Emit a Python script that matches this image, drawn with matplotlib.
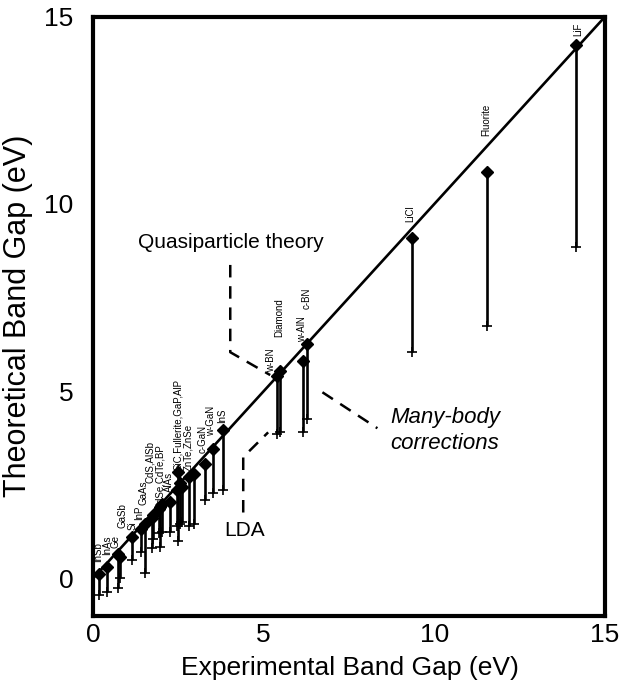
import matplotlib
matplotlib.use("Agg")
import matplotlib.pyplot as plt

plt.rcParams['font.family'] = ['Liberation Sans', 'DejaVu Sans']

# band gaps (eV): experiment, quasiparticle (GW) and LDA
materials = ["InSb", "InAs", "Ge", "GaSb", "Si", "InP", "GaAs", "CdS", "AlSb",
             "CdSe", "CdTe", "BP", "AlAs", "SiC", "Fullerite", "GaP", "AlP",
             "ZnTe", "ZnSe", "c-GaN", "w-GaN", "ZnS", "w-BN", "Diamond",
             "w-AlN", "c-BN", "LiCl", "Fluorite", "LiF"]
exp_gap = [0.18, 0.40, 0.74, 0.80, 1.15, 1.42, 1.52, 1.72, 1.76,
           1.92, 1.96, 2.02, 2.25, 2.45, 2.50, 2.55, 2.62,
           2.80, 2.95, 3.28, 3.52, 3.80, 5.40, 5.48,
           6.15, 6.27, 9.33, 11.55, 14.15]
qp_gap = [0.13, 0.30, 0.65, 0.58, 1.10, 1.33, 1.45, 1.62, 1.70,
          1.85, 1.90, 2.00, 2.05, 2.35, 2.85, 2.55, 2.45,
          2.70, 2.80, 3.05, 3.45, 3.95, 5.40, 5.55,
          5.80, 6.25, 9.10, 10.85, 14.25]
lda_gap = [-0.45, -0.37, -0.25, 0.00, 0.48, 0.70, 0.15, 0.80, 1.05,
           1.20, 0.85, 1.25, 1.25, 1.40, 1.00, 1.45, 1.50,
           1.40, 1.45, 2.10, 2.27, 2.35, 3.85, 3.90,
           3.90, 4.25, 6.05, 6.75, 8.85]

# point labels as printed (text, x, y of the label's lower end)
label_text = ["InSb", "InAs", "Ge", "GaSb", "Si", "InP", "GaAs", "CdS,AlSb",
              "CdSe,CdTe,BP", "AlAs", "SiC,Fullerite,GaP,AlP", "ZnTe,ZnSe",
              "c-GaN", "w-GaN", "InS", "w-BN", "Diamond", "w-AlN", "c-BN",
              "LiCl", "Fluorite", "LiF"]
label_x = [0.14, 0.40, 0.66, 0.87, 1.15, 1.36, 1.48, 1.66,
           1.97, 2.23, 2.50, 2.78,
           3.22, 3.47, 3.78, 5.22, 5.45, 6.13, 6.27,
           9.30, 11.52, 14.20]
label_y = [0.45, 0.62, 0.80, 1.35, 1.28, 1.55, 1.95, 2.55,
           1.85, 2.30, 2.90, 2.88,
           3.35, 3.80, 4.14, 5.50, 6.44, 6.31, 7.20,
           9.52, 11.80, 14.47]

fig = plt.figure(figsize=(6.2, 6.92), dpi=100)
ax = fig.add_axes([0.15, 0.110, 0.826, 0.866])

# ideal agreement line
ax.plot([0, 15], [0, 15], color='k', lw=1.9, zorder=3)

# LDA -> quasiparticle bars
ax.vlines(exp_gap, lda_gap, qp_gap, colors='k', lw=1.9, zorder=2)
ax.plot(exp_gap, qp_gap, 'D', color='k', ms=6, zorder=4)
ax.plot(exp_gap, lda_gap, '+', color='k', ms=7, mew=1.2, zorder=4)

for t, x, y in zip(label_text, label_x, label_y):
    ax.text(x, y, t, rotation=90, ha='center', va='bottom', fontsize=7)

# annotations with dashed leaders
dash = (0, (5, 3.5))
ax.plot([4.02, 4.02, 5.19], [8.37, 6.04, 5.43], color='k', lw=1.8, ls=dash)
ax.text(4.05, 8.96, "Quasiparticle theory", ha='center', va='center', fontsize=15)

ax.plot([4.40, 4.40, 5.13], [1.76, 3.24, 3.90], color='k', lw=1.8, ls=dash)
ax.text(4.43, 1.28, "LDA", ha='center', va='center', fontsize=15)

ax.plot([6.72, 8.33], [4.97, 4.01], color='k', lw=1.8, ls=dash)
ax.text(8.71, 3.96, "Many-body\ncorrections", ha='left', va='center',
        fontsize=16, style='italic', linespacing=1.3)

ax.set_xlim(0, 15)
ax.set_ylim(-1, 15)
ax.set_xticks([0, 5, 10, 15])
ax.set_yticks([0, 5, 10, 15])
ax.tick_params(length=0, labelsize=19)
ax.tick_params(axis='x', pad=5)
ax.tick_params(axis='y', pad=14)
for s in ax.spines.values():
    s.set_linewidth(3)

fig.text(350 / 620, 1 - 668 / 692, "Experimental Band Gap (eV)",
         ha='center', va='center', fontsize=19)
fig.text(18 / 620, 1 - 316 / 692, "Theoretical Band Gap (eV)",
         ha='center', va='center', rotation=90, fontsize=22)

fig.savefig("out.png", dpi=100)
